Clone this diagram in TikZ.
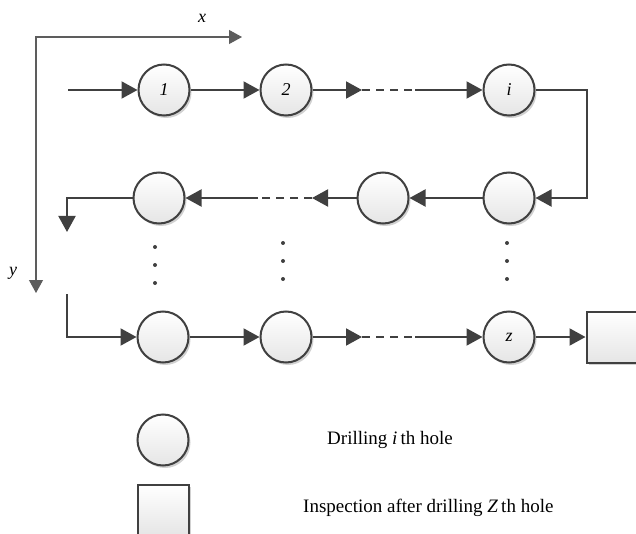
\documentclass[tikz,border=0pt]{standalone}
\usepackage{fontspec}
\setmainfont{Liberation Serif}
\usetikzlibrary{arrows.meta,shadows}
\definecolor{ink}{HTML}{404040}
\tikzset{
  hole/.style={circle, draw=ink, line width=2pt, minimum size=51pt, inner sep=0pt,
    top color=white, bottom color=black!10,
    drop shadow={shadow xshift=2pt, shadow yshift=-2.5pt, opacity=0.18, fill=black},
    font=\fontsize{18}{20}\selectfont\itshape},
  checkbox/.style={rectangle, draw=ink, line width=2pt, minimum size=51pt, inner sep=0pt,
    top color=white, bottom color=black!10,
    drop shadow={shadow xshift=2pt, shadow yshift=-2.5pt, opacity=0.18, fill=black}},
  flow/.style={draw=ink, line width=2pt, -{Triangle[length=16pt,width=17pt]}},
  gap/.style={draw=ink, line width=1.3pt, dash pattern=on 8pt off 6pt},
  axis/.style={draw=ink!85, line width=1.1pt, {Triangle[length=13pt,width=14pt]}-{Triangle[length=13pt,width=14pt]}},
  dot/.style={circle, fill=ink, inner sep=0pt, minimum size=4pt},
  lbl/.style={font=\fontsize{18}{20}\selectfont\itshape, inner sep=0pt},
  legend/.style={font=\fontsize{19}{22}\selectfont, anchor=west, inner sep=0pt}
}
\begin{document}
\begin{tikzpicture}[x=1pt, y=-1pt]
\useasboundingbox (0,0) rectangle (636,534);

% coordinate axes
\coordinate (ytip) at (36,293);
\coordinate (xtip) at (242,37);
\draw[axis] (ytip) |- (xtip);
\node[lbl] (xlab) at (202,18) {x};
\node[lbl] (ylab) at (13,273) {y};

% first row
\node[hole] (a1) at (164,90) {1};
\node[hole] (a2) at (286,90) {2};
\node[hole] (ai) at (509,90) {i};
\coordinate (start) at (68,90);
\coordinate (g1a) at (362,90);
\coordinate (g1b) at (415,90);
\draw[flow] (start) -- (a1);
\draw[flow] (a1) -- (a2);
\draw[flow] (a2) -- (g1a);
\draw[gap] (g1a) -- (g1b);
\draw[flow] (g1b) -- (ai);

% second row
\node[hole] (b1) at (159,198) {};
\node[hole] (b2) at (383,198) {};
\node[hole] (b3) at (509,198) {};
\coordinate (turnR) at (587,144);
\coordinate (g2a) at (312,198);
\coordinate (g2b) at (258,198);
\coordinate (down) at (67,232);
\draw[flow] (ai) -| (turnR) |- (b3);
\draw[flow] (b3) -- (b2);
\draw[flow] (b2) -- (g2a);
\draw[gap] (g2a) -- (g2b);
\draw[flow] (g2b) -- (b1);
\draw[flow] (b1) -| (down);

% vertical ellipses
\node[dot] (v1a) at (155,247) {};
\node[dot] (v1b) at (155,265) {};
\node[dot] (v1c) at (155,283) {};
\node[dot] (v2a) at (283,243) {};
\node[dot] (v2b) at (283,261) {};
\node[dot] (v2c) at (283,279) {};
\node[dot] (v3a) at (507,243) {};
\node[dot] (v3b) at (507,261) {};
\node[dot] (v3c) at (507,279) {};

% last row
\node[hole] (c1) at (163,337) {};
\node[hole] (c2) at (286,337) {};
\node[hole] (cz) at (509,337) {z};
\node[checkbox] (done) at (612,337) {};
\coordinate (resume) at (67,294);
\coordinate (g3a) at (362,337);
\coordinate (g3b) at (415,337);
\draw[flow] (resume) |- (c1);
\draw[flow] (c1) -- (c2);
\draw[flow] (c2) -- (g3a);
\draw[gap] (g3a) -- (g3b);
\draw[flow] (g3b) -- (cz);
\draw[flow] (cz) -- (done);

% legend
\node[hole] (keyhole) at (163,440) {};
\node[checkbox] (keybox) at (163,510) {};
\node[legend] (keyhole text) at (327,440) {Drilling \textit{i}\,th hole};
\node[legend] (keybox text) at (303,508) {Inspection after drilling \textit{Z}\,th hole};
\end{tikzpicture}
\end{document}
